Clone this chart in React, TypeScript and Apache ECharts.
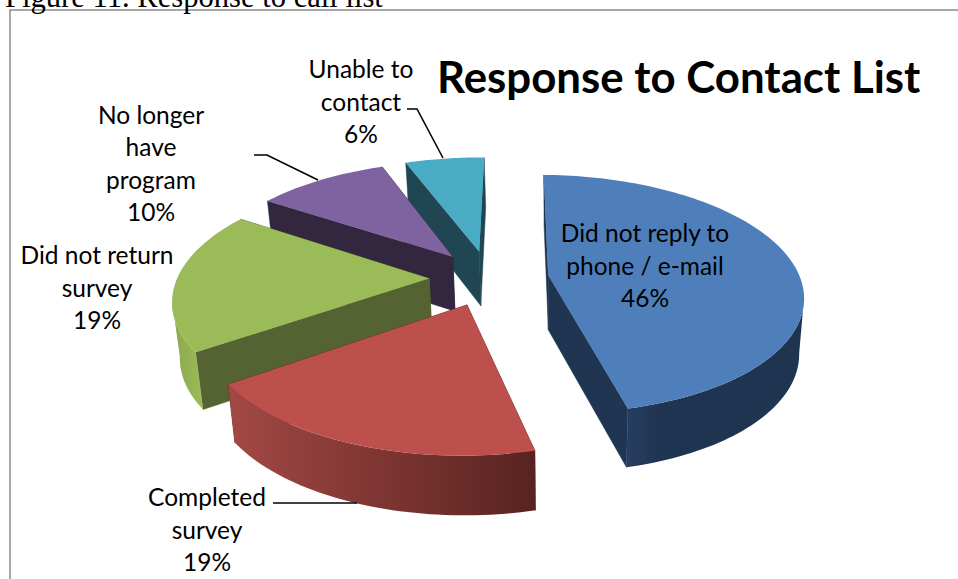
import React, { useEffect, useRef } from "react";
import * as echarts from "echarts";

const caption = "Figure 11. Response to call list";
const chartTitle = "Response to Contact List";
const categories = ["Did not reply to phone / e-mail", "Completed survey", "Did not return survey", "No longer have program", "Unable to contact"];
const values = [46, 19, 19, 10, 6];
const labelLines = [
  ["Did not reply to", "phone / e-mail"],
  ["Completed", "survey"],
  ["Did not return", "survey"],
  ["No longer", "have", "program"],
  ["Unable to", "contact"],
];
const topColors = ["#4F7FBB", "#BD4F4C", "#9BBA58", "#7F63A1", "#4AABC5"];
const radialWallColors = ["#1F3552", "#5A2320", "#546331", "#33273F", "#1F4652"];
const outerWallColors = [
  ["#263E62", "#1F3450"],
  ["#A34845", "#58231F"],
  ["#8CA94F", "#9BBA58"],
  ["#33273F", "#33273F"],
  ["#1F4652", "#1F4652"],
];
const drawOrder = [4, 3, 2, 0, 1];
const labelCentres = [[645, 265], [207, 529], [97, 287], [151, 163], [361, 101]];
const leaders = [
  null,
  [[273, 503], [357, 503]],
  null,
  [[254, 155], [267, 155], [318, 180]],
  [[407, 109], [417, 109], [443, 158]],
];

const total = values.reduce((a, b) => a + b, 0);
const CX = 489, CY = 278, R = 252, H = 117, K = 0.16, EXPLODE = 0.237, DEPTH = 55;
const VX = 560, SHRINK = 0.02;
const ROTATION = Math.PI / 180;

function project(X: number, Z: number, bottom: boolean): number[] {
  const s = 1 / (1 - K * Z);
  const x = CX + R * X * s;
  const y = CY + H * Z * s;
  if (!bottom) return [x, y];
  return [x + (VX - x) * SHRINK, y + DEPTH * (1 + 0.07 * Z)];
}

function sliceAngles(i: number): number[] {
  let sum = 0;
  for (let j = 0; j < i; j++) sum += values[j];
  return [ROTATION + (sum / total) * Math.PI * 2, ROTATION + ((sum + values[i]) / total) * Math.PI * 2];
}

function renderSlice(_params: any, api: any) {
  const i = api.value(0);
  const [a0, a1] = sliceAngles(i);
  const mid = (a0 + a1) / 2;
  const ox = EXPLODE * Math.sin(mid), oz = -EXPLODE * Math.cos(mid);
  const at = (a: number, b: boolean) => project(ox + Math.sin(a), oz - Math.cos(a), b);
  const apexTop = project(ox, oz, false);
  const apexBottom = project(ox, oz, true);
  const steps = Math.max(24, Math.round((a1 - a0) * 40));
  const arc: number[] = [];
  for (let n = 0; n <= steps; n++) arc.push(a0 + ((a1 - a0) * n) / steps);

  const children: any[] = [];
  const wall = (a: number) => ({
    type: "polygon",
    shape: { points: [apexTop, at(a, false), at(a, true), apexBottom] },
    style: { fill: radialWallColors[i], stroke: radialWallColors[i], lineWidth: 0.5 },
    silent: true,
  });
  children.push(wall(a1), wall(a0));

  const front = arc.filter((a, n) => {
    const p = at(a, false);
    const next = n < steps ? at(arc[n + 1], false) : null;
    const prev = n > 0 ? at(arc[n - 1], false) : null;
    return (next && next[0] < p[0]) || (prev && p[0] < prev[0]);
  });
  if (front.length > 1) {
    const frontTop = front.map((a) => at(a, false));
    const frontBottom = front.map((a) => at(a, true)).reverse();
    children.push({
      type: "polygon",
      shape: { points: frontTop.concat(frontBottom) },
      style: {
        fill: new echarts.graphic.LinearGradient(0, 0, 1, 0, [
          { offset: 0, color: outerWallColors[i][0] },
          { offset: i === 0 ? 0.2 : 0, color: i === 0 ? outerWallColors[i][1] : outerWallColors[i][0] },
          { offset: 1, color: outerWallColors[i][1] },
        ]),
      },
      silent: true,
    });
  }

  children.push({
    type: "polygon",
    shape: { points: [apexTop].concat(arc.map((a) => at(a, false))) },
    style: { fill: topColors[i] },
    silent: true,
  });
  return { type: "group", children };
}

const FONT = "Lato, 'Open Sans', sans-serif";

export default function App() {
  const ref = useRef<HTMLDivElement>(null);
  useEffect(() => {
    const chart = echarts.init(ref.current!, null, { renderer: "svg" });
    const graphics: any[] = [
      {
        type: "rect",
        shape: { x: 10, y: 10, width: 970, height: 600 },
        style: { fill: "none", stroke: "#8C8C8C", lineWidth: 1.5 },
        silent: true,
      },
      {
        type: "text",
        x: 5,
        y: 12,
        style: {
          text: caption,
          font: "30.6px 'Liberation Serif', serif",
          fill: "#000",
          verticalAlign: "bottom",
        },
        silent: true,
      },
    ];
    categories.forEach((_c, i) => {
      graphics.push({
        type: "text",
        x: labelCentres[i][0],
        y: labelCentres[i][1],
        z: 10,
        style: {
          text: labelLines[i].concat([`${values[i]}%`]).join("\n"),
          font: `24.5px ${FONT}`,
          lineHeight: 32.5,
          fill: "#000",
          align: "center",
          verticalAlign: "middle",
        },
        silent: true,
      });
      const l = leaders[i];
      if (l) {
        graphics.push({
          type: "polyline",
          z: 10,
          shape: { points: l },
          style: { stroke: "#000", lineWidth: 1.6, fill: "none" },
          silent: true,
        });
      }
    });
    chart.setOption({
      animation: false,
      backgroundColor: "#fff",
      title: {
        text: chartTitle,
        left: 437,
        top: 54,
        padding: 0,
        textStyle: { fontFamily: FONT, fontWeight: "bold", fontSize: 43.8, color: "#000" },
      },
      xAxis: { show: false },
      yAxis: { show: false },
      graphic: graphics,
      series: [
        {
          type: "custom",
          coordinateSystem: "none",
          renderItem: renderSlice,
          silent: true,
          data: drawOrder.map((i) => [i, values[i]]),
        },
      ],
    });
    return () => chart.dispose();
  }, []);
  return <div ref={ref} style={{ position: "absolute", left: 0, top: 0, width: 958, height: 579 }} />;
}
